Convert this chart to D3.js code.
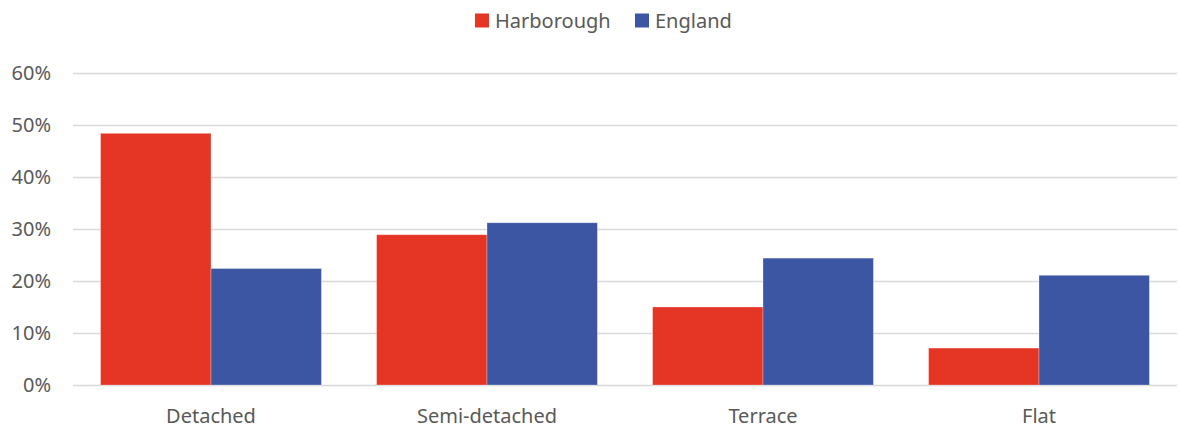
<!DOCTYPE html>
<html><head><meta charset="utf-8">
<script src="https://cdn.jsdelivr.net/npm/d3@7/dist/d3.min.js"></script>
<style>body{margin:0;background:#fff}svg{display:block}</style>
</head><body><svg id="c" width="1178" height="430"></svg>
<script>
const categories = ["Detached","Semi-detached","Terrace","Flat"];
const seriesNames = ["Harborough","England"];
const harborough = [0.484, 0.289, 0.150, 0.071];
const england = [0.224, 0.312, 0.244, 0.211];
const yTicks = [0,0.1,0.2,0.3,0.4,0.5,0.6];
const colors = ["#E43525","#3C56A3"];

const svg = d3.select("#c");
const m = {l:73, r:1, t:73, b:45};
const W = 1178, H = 430;
const font = "'Noto Sans', sans-serif";
const fs = "20px";
const x = d3.scaleBand().domain(categories).range([m.l, W-m.r]).paddingInner(0.2).paddingOuter(0.1);
const xs = d3.scaleBand().domain(seriesNames).range([0, x.bandwidth()]);
const y = d3.scaleLinear().domain([0,0.6]).range([H-m.b, m.t]);

const yAxis = d3.axisLeft(y).tickValues(yTicks).tickFormat(d3.format(".0%")).tickSize(-(W-m.l-m.r)).tickPadding(22);
const gy = svg.append("g").attr("transform",`translate(${m.l},0)`).call(yAxis);
gy.select(".domain").remove();
gy.selectAll(".tick line").attr("stroke","#d9d9d9").attr("stroke-width",1.5);
gy.selectAll(".tick text").attr("fill","#595959").style("font-family",font).style("font-size",fs);

const data = categories.map((c,i)=>({c, vals:[harborough[i], england[i]]}));
const g = svg.append("g");
data.forEach(d=>{
  d.vals.forEach((v,j)=>{
    g.append("rect")
      .attr("x", x(d.c)+xs(seriesNames[j]))
      .attr("y", y(v))
      .attr("width", xs.bandwidth())
      .attr("height", y(0)-y(v))
      .attr("fill", colors[j])
      .attr("stroke", "rgba(255,255,255,0.35)")
      .attr("stroke-width", 0.8);
  });
});

const xAxis = d3.axisBottom(x).tickSize(0).tickPadding(31);
const gx = svg.append("g").attr("transform",`translate(0,${H-m.b})`).call(xAxis);
gx.select(".domain").remove();
gx.selectAll(".tick text").attr("fill","#595959").style("font-family",font).style("font-size",fs).attr("dy","0.35em");

// legend
const leg = svg.append("g");
const legX = [475, 635];
seriesNames.forEach((s,i)=>{
  leg.append("rect").attr("x",legX[i]).attr("y",13.5).attr("width",14).attr("height",14).attr("fill",colors[i]);
  leg.append("text").attr("x",legX[i]+20).attr("y",20.5).attr("dy","0.35em").text(s)
    .attr("fill","#595959").style("font-family",font).style("font-size",fs);
});
</script></body></html>
